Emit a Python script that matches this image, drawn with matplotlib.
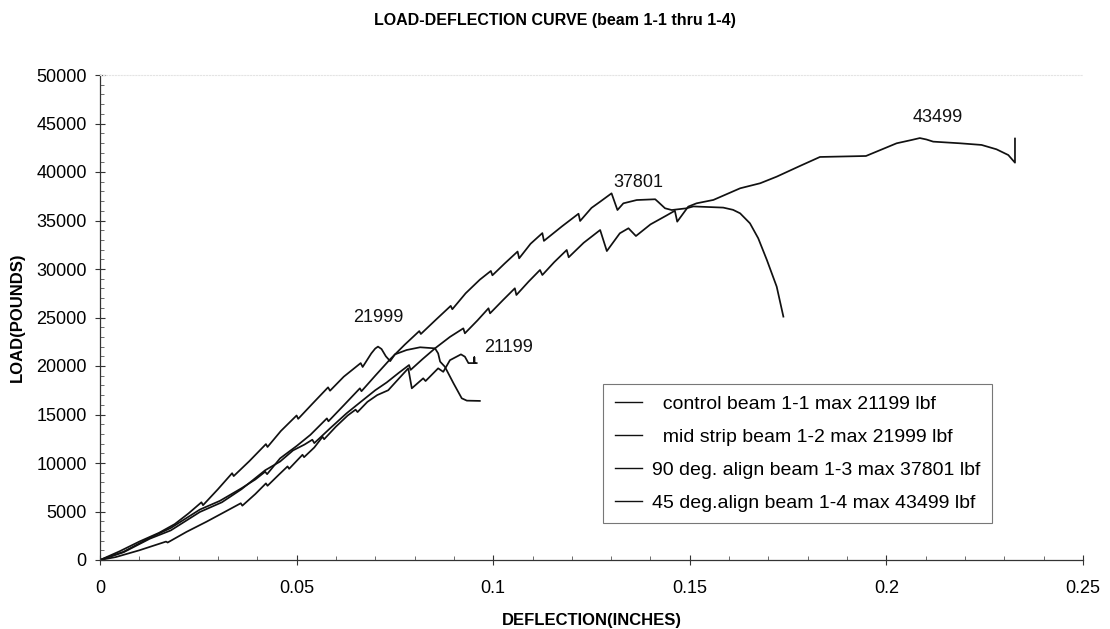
import matplotlib
matplotlib.use("Agg")
import matplotlib.pyplot as plt
from matplotlib.ticker import MultipleLocator
import numpy as np

plt.rcParams['font.family'] = ['Liberation Sans', 'DejaVu Sans']

# ---------------- data ----------------
title = "LOAD-DEFLECTION CURVE (beam 1-1 thru 1-4)"
x_label = "DEFLECTION(INCHES)"
y_label = "LOAD(POUNDS)"

labels = ["  control beam 1-1 max 21199 lbf",
          "  mid strip beam 1-2 max 21999 lbf",
          "90 deg. align beam 1-3 max 37801 lbf",
          "45 deg.align beam 1-4 max 43499 lbf"]
peak_labels = ["21199", "21999", "37801", "43499"]

x_11 = [0, 0.004, 0.010, 0.0168, 0.0172, 0.022, 0.0271, 0.031, 0.0358, 0.0362,
        0.0395, 0.0422, 0.0426, 0.0455, 0.0477, 0.0481, 0.0515, 0.0519, 0.0545,
        0.0566, 0.0570, 0.0600, 0.0630, 0.0650, 0.0655, 0.0680, 0.0705, 0.0733,
        0.0760, 0.0784, 0.0793, 0.0822, 0.0828, 0.0860, 0.0873, 0.0890, 0.0918,
        0.0928, 0.0937, 0.0952, 0.0952, 0.0952, 0.0958]
y_11 = [0, 300, 1000, 1900, 1800, 2900, 3950, 4800, 5850, 5600,
        6800, 7900, 7650, 8800, 9650, 9400, 10850, 10600, 11600,
        12700, 12450, 13750, 14900, 15500, 15250, 16300, 17000, 17500,
        18700, 19760, 17700, 18730, 18450, 19760, 19400, 20600, 21199,
        20960, 20300, 20300, 20900, 20300, 20300]

x_12 = [0, 0.005, 0.010, 0.0150, 0.0190, 0.0225, 0.0258, 0.0262, 0.030, 0.0336,
        0.0340, 0.038, 0.0422, 0.0426, 0.046, 0.0500, 0.0504, 0.054, 0.0580,
        0.0585, 0.062, 0.0663, 0.0668, 0.0690, 0.0700, 0.0707, 0.0716, 0.0727,
        0.0738, 0.0750, 0.0780, 0.0814, 0.0852, 0.0860, 0.0865, 0.0877, 0.0899,
        0.0920, 0.0933, 0.0966]
y_12 = [0, 900, 1900, 2800, 3700, 4800, 5950, 5650, 7300, 8950,
        8650, 10200, 11950, 11650, 13300, 14900, 14550, 16100, 17800,
        17450, 18900, 20300, 19900, 21300, 21800, 21999, 21750, 21000,
        20500, 21200, 21650, 21930, 21820, 21300, 20450, 19930, 18220,
        16670, 16430, 16400]

x_13 = [0, 0.006, 0.0127, 0.018, 0.0254, 0.0305, 0.036, 0.0395, 0.0420, 0.0425,
        0.0458, 0.050, 0.0535, 0.0577, 0.0581, 0.062, 0.0661, 0.0665, 0.070,
        0.0738, 0.0775, 0.0812, 0.0816, 0.0855, 0.0892, 0.0896, 0.093, 0.0966,
        0.0994, 0.0998, 0.103, 0.1062, 0.1066, 0.1095, 0.1125, 0.1129, 0.1175,
        0.1217, 0.1221, 0.125, 0.1272, 0.1301, 0.1316, 0.1331, 0.1365, 0.1412,
        0.1420, 0.1437, 0.1454, 0.1492, 0.1509, 0.1585, 0.1610, 0.1628, 0.1653,
        0.1674, 0.1696, 0.1721, 0.1738]
y_13 = [0, 850, 2300, 3300, 5200, 6100, 7400, 8300, 9100, 8850,
        10480, 11750, 12900, 14600, 14300, 15950, 17700, 17400, 19000,
        20700, 22200, 23600, 23300, 24800, 26200, 25850, 27500, 28900,
        29800, 29350, 30600, 31800, 31100, 32600, 33700, 32900, 34400,
        35700, 34950, 36300, 36940, 37801, 36080, 36770, 37110, 37190,
        36900, 36260, 36080, 36260, 36450, 36330, 36100, 35740, 34710,
        33170, 30930, 28180, 25090]

x_14 = [0, 0.006, 0.0127, 0.018, 0.0254, 0.031, 0.036, 0.042, 0.0458, 0.0491,
        0.0520, 0.0540, 0.0545, 0.0585, 0.0627, 0.0660, 0.0700, 0.0729, 0.0760,
        0.0786, 0.0790, 0.0820, 0.0852, 0.0890, 0.0924, 0.0928, 0.0960, 0.0988,
        0.0992, 0.1025, 0.1055, 0.1059, 0.109, 0.1119, 0.1125, 0.1155, 0.1187,
        0.1192, 0.123, 0.1272, 0.1289, 0.1322, 0.1344, 0.1363, 0.1400, 0.1440,
        0.1462, 0.1468, 0.1496, 0.1517, 0.156, 0.1628, 0.1679, 0.1721, 0.178,
        0.1831, 0.1948, 0.2026, 0.2064, 0.2085, 0.2102, 0.2119, 0.2187, 0.2242,
        0.2280, 0.2310, 0.2327, 0.2327]
y_14 = [0, 800, 2200, 3050, 4950, 5950, 7300, 9250, 10150, 11300,
        11900, 12400, 12050, 13570, 15120, 16200, 17500, 18300, 19300,
        20100, 19600, 20700, 21820, 23000, 23880, 23370, 24700, 25950,
        25430, 26800, 28010, 27320, 28700, 29900, 29380, 30700, 31960,
        31210, 32700, 34020, 31850, 33680, 34200, 33400, 34600, 35500,
        36010, 34880, 36430, 36770, 37120, 38320, 38840, 39520, 40620,
        41550, 41650, 42960, 43300, 43499, 43350, 43130, 42960, 42790,
        42340, 41750, 40960, 43450]

series_x = [x_11, x_12, x_13, x_14]
series_y = [y_11, y_12, y_13, y_14]

# ---------------- styling ----------------
label_offsets = [(34, 5), (0, 21), (19, 8), (13, 15)]  # points

W, H = 1110, 629
fig = plt.figure(figsize=(W / 100, H / 100), dpi=100)
ax = fig.add_axes([100 / W, 1 - 560 / H, 983 / W, 485 / H])

for xs, ys, lab, plab, off in zip(series_x, series_y, labels, peak_labels, label_offsets):
    ax.plot(xs, ys, color='#111111', lw=1.25, label=lab)
    i = int(np.argmax(ys))
    ax.annotate(plab, xy=(xs[i], ys[i]), xytext=off, textcoords='offset points',
                ha='center', va='center', fontsize=13, color='#111111')

ax.set_xlim(0, 0.25)
ax.set_ylim(0, 50000)
ax.xaxis.set_major_locator(MultipleLocator(0.05))
ax.xaxis.set_minor_locator(MultipleLocator(0.01))
ax.yaxis.set_major_locator(MultipleLocator(5000))
ax.yaxis.set_minor_locator(MultipleLocator(1000))
ax.set_xticks([0, 0.05, 0.1, 0.15, 0.2, 0.25])
ax.set_xticklabels(["0", "0.05", "0.1", "0.15", "0.2", "0.25"])

ax.spines['right'].set_visible(False)
ax.spines['top'].set_color('#e4e4e4')
ax.spines['top'].set_linestyle(':')
ax.spines['top'].set_linewidth(0.8)
for s in ['left', 'bottom']:
    ax.spines[s].set_color('#333333')
    ax.spines[s].set_linewidth(0.9)

ax.tick_params(which='major', direction='inout', length=7, width=0.8, color='#333333',
               labelsize=13)
ax.tick_params(axis='y', which='major', pad=6)
ax.tick_params(axis='x', which='major', pad=11)
ax.tick_params(which='minor', direction='in', length=3, width=0.6, color='#555555')

fig.text(0.5, 1 - 20 / H, title, fontsize=11.5, fontweight='bold',
         ha='center', va='center')
ax.set_xlabel(x_label, fontsize=12, fontweight='bold', va='center')
ax.xaxis.set_label_coords(0.5, -(620 - 560) / 485)
ax.set_ylabel(y_label, fontsize=12, fontweight='bold', va='center')
ax.yaxis.set_label_coords(-(100 - 17) / 983, 0.5)

leg = ax.legend(loc='upper left', bbox_to_anchor=(0.5117, 0.3630), frameon=True,
                fancybox=False, edgecolor='#555555', fontsize=14, handlelength=1.4,
                handletextpad=0.5, labelspacing=0.78, borderpad=0.6, borderaxespad=0)
leg.get_frame().set_linewidth(0.8)
for h in leg.get_lines():
    h.set_linewidth(1.0)

fig.savefig("out.png", dpi=100, facecolor='white')
